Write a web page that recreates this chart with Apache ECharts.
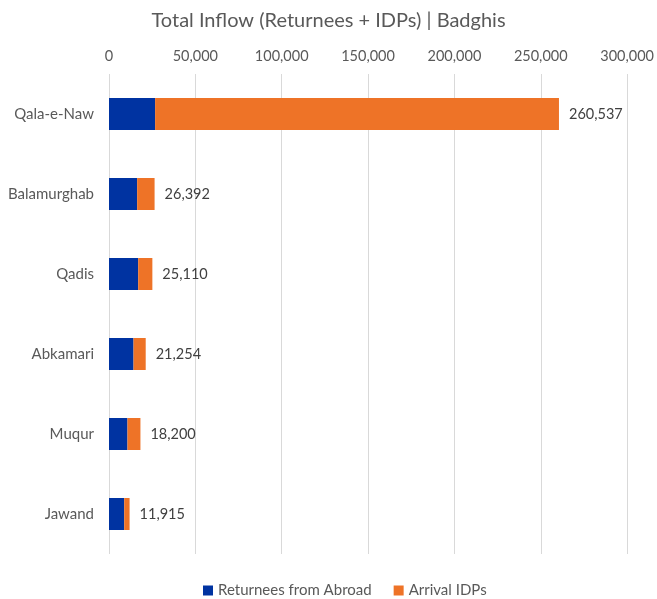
<!DOCTYPE html>
<html>
<head>
<meta charset="utf-8">
<script src="https://cdn.jsdelivr.net/npm/echarts@6/dist/echarts.min.js"></script>
<style>
  html, body { margin: 0; padding: 0; background: #fff; }
  #chart { width: 657px; height: 599px; }
</style>
</head>
<body>
<div id="chart"></div>
<script>
// Districts of Badghis, top to bottom
const districts = ['Qala-e-Naw', 'Balamurghab', 'Qadis', 'Abkamari', 'Muqur', 'Jawand'];
// Returnees from abroad per district
const returnees = [26700, 16300, 16900, 14200, 10700, 8800];
// Total inflow per district (returnees + arrival IDPs)
const totals = [260537, 26392, 25110, 21254, 18200, 11915];
// Arrival IDPs = total minus returnees
const idps = totals.map((t, i) => t - returnees[i]);
const xTicks = [0, 50000, 100000, 150000, 200000, 250000, 300000];

const fmt = v => v.toLocaleString('en-US');
const font = 'Lato, "Open Sans", sans-serif';

const chart = echarts.init(document.getElementById('chart'));
chart.setOption({
  animation: false,
  title: {
    text: 'Total Inflow (Returnees + IDPs) | Badghis',
    left: 'center',
    top: 6,
    textStyle: { fontFamily: font, fontSize: 20, fontWeight: 'normal', color: '#595959' }
  },
  legend: {
    top: 578,
    left: 198,
    itemWidth: 10,
    itemHeight: 10,
    itemGap: 22,
    icon: 'rect',
    textStyle: { fontFamily: font, fontSize: 15, color: '#595959' },
    data: ['Returnees from Abroad', 'Arrival IDPs']
  },
  grid: { left: 109, right: 28, top: 74, height: 480, containLabel: false },
  xAxis: {
    type: 'value',
    position: 'top',
    min: xTicks[0],
    max: xTicks[xTicks.length - 1],
    interval: 50000,
    axisLine: { show: false },
    axisTick: { show: false },
    axisLabel: { fontFamily: font, fontSize: 14.5, color: '#595959', margin: 10, formatter: v => fmt(v) },
    splitLine: { show: true, lineStyle: { color: '#d9d9d9', width: 1 } }
  },
  yAxis: {
    type: 'category',
    inverse: true,
    data: districts,
    axisLine: { show: false },
    axisTick: { show: false },
    axisLabel: { fontFamily: font, fontSize: 15, color: '#595959', margin: 15 }
  },
  series: [
    {
      name: 'Returnees from Abroad',
      type: 'bar',
      stack: 'inflow',
      barWidth: '40%',
      data: returnees,
      itemStyle: { color: '#0033a1' }
    },
    {
      name: 'Arrival IDPs',
      type: 'bar',
      stack: 'inflow',
      barWidth: '40%',
      data: idps,
      itemStyle: { color: '#ee7327' },
      label: {
        show: true,
        position: 'right',
        distance: 10,
        fontFamily: font,
        fontSize: 14.5,
        color: '#404040',
        formatter: p => fmt(totals[p.dataIndex])
      }
    }
  ]
});
</script>
</body>
</html>
